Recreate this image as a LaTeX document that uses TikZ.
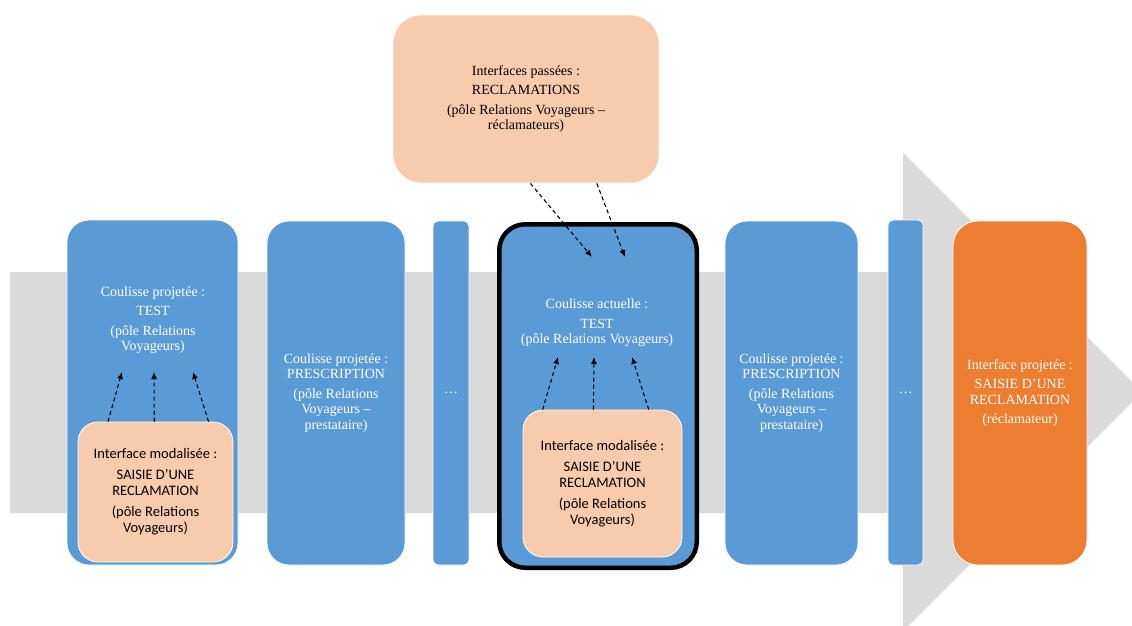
\documentclass[tikz,border=0pt]{standalone}
\usepackage{fontspec}
\setmainfont{Liberation Serif}
\newfontfamily\calib{Carlito}
\usetikzlibrary{arrows.meta,calc}
\definecolor{blueA}{HTML}{5B9BD5}
\definecolor{peachA}{HTML}{F8CBAD}
\definecolor{grayA}{HTML}{D9D9D9}
\definecolor{orangeA}{HTML}{ED7D31}
\tikzset{
  bluebox/.style={draw=white, line width=0.8pt, fill=blueA, rounded corners=22pt, inner sep=0pt},
  slimbox/.style={draw=white, line width=0.8pt, fill=blueA, rounded corners=5pt, inner sep=0pt},
  peachbox/.style={draw=white, line width=0.8pt, fill=peachA, rounded corners=20pt, inner sep=0pt},
  serif/.style={align=center, font=\fontsize{14}{15.5}\selectfont},
  btext/.style={serif, text=white},
  ptext/.style={align=center, font=\calib\fontsize{14.5}{16}\selectfont},
  dasharrow/.style={dashed, dash pattern=on 4pt off 3pt, line width=1.1pt, -{Latex[length=7pt,width=6pt]}}
}
\begin{document}
\begin{tikzpicture}[x=1pt,y=-1pt]
\useasboundingbox (0,0) rectangle (1132,625);
\clip (0,0) rectangle (1132,625);
% grey process arrow
\fill[grayA] (10,272) -- (903,272) -- (903,153) -- (1142,392) -- (903,631) -- (903,513) -- (10,513) -- cycle;

% box 1
\node[bluebox, minimum width=171pt, minimum height=345pt] (b1) at (152.5,392.5) {};
\node[btext] (t1) at (153,320) {Coulisse projetée :\\[4pt] TEST\\[4pt] (pôle Relations\\ Voyageurs)};
\node[peachbox, ptext, minimum width=155pt, minimum height=140pt] (p1) at (155.5,492)
  {Interface modalisée :\\[5pt] SAISIE D’UNE\\ RECLAMATION\\[5pt] (pôle Relations\\ Voyageurs)};
\coordinate (a1) at (122,372);
\coordinate (a2) at (154,372);
\coordinate (a3) at (193,372);
\draw[dasharrow] (p1.124) -- (a1);
\draw[dasharrow] (p1.91) -- (a2);
\draw[dasharrow] (p1.53) -- (a3);

% box 2
\node[bluebox, btext, minimum width=138pt, minimum height=344pt] (b2) at (336,393)
  {Coulisse projetée :\\ PRESCRIPTION\\[4pt] (pôle Relations\\ Voyageurs –\\ prestataire)};
% box 3
\node[slimbox, btext, minimum width=36pt, minimum height=344pt] (b3) at (451,393) {…};

% box 4 (current)
\node[draw=black, line width=4.5pt, fill=blueA, rounded corners=26pt, minimum width=197.5pt, minimum height=343.5pt] (b4) at (598,396) {};
\node[btext] (t4) at (597,323) {Coulisse actuelle :\\[4pt] TEST\\ (pôle Relations Voyageurs)};
\node[peachbox, ptext, minimum width=159pt, minimum height=147pt] (p4) at (602.5,483.5)
  {Interface modalisée :\\[5pt] SAISIE D’UNE\\ RECLAMATION\\[5pt] (pôle Relations\\ Voyageurs)};
\coordinate (c1) at (558,357);
\coordinate (c2) at (594,357);
\coordinate (c3) at (632,357);
\draw[dasharrow] (p4.129) -- (c1);
\draw[dasharrow] (p4.97) -- (c2);
\draw[dasharrow] (p4.58) -- (c3);

% top box
\node[peachbox, serif, rounded corners=28pt, minimum width=266pt, minimum height=168pt] (top) at (526,99)
  {Interfaces passées :\\[4pt] RECLAMATIONS\\[4pt] (pôle Relations Voyageurs –\\ réclamateurs)};
\coordinate (d1) at (592,257);
\coordinate (d2) at (625,257);
\draw[dasharrow] (top.273) -- (d1);
\draw[dasharrow] (top.310) -- (d2);

% box 6
\node[bluebox, btext, minimum width=133pt, minimum height=344pt] (b6) at (791.5,393)
  {Coulisse projetée :\\ PRESCRIPTION\\[4pt] (pôle Relations\\ Voyageurs –\\ prestataire)};
% box 7
\node[slimbox, btext, minimum width=35pt, minimum height=345pt] (b7) at (905.5,392.5) {…};
% orange box
\node[bluebox, fill=orangeA, btext, rounded corners=25pt, minimum width=134pt, minimum height=344pt] (b8) at (1020,393)
  {Interface projetée :\\[4pt] SAISIE D’UNE\\ RECLAMATION\\[4pt] (réclamateur)};
\end{tikzpicture}
\end{document}
